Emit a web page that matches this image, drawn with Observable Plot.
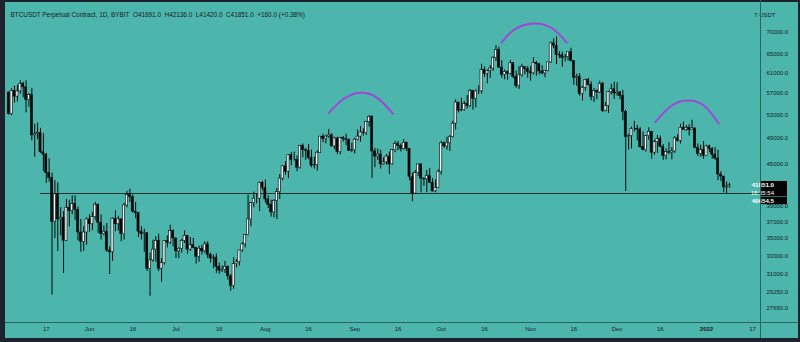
<!DOCTYPE html>
<html><head><meta charset="utf-8">
<script src="https://cdn.jsdelivr.net/npm/d3@7"></script>
<script src="https://cdn.jsdelivr.net/npm/@observablehq/plot@0.6"></script>
<style>
html,body{margin:0;padding:0;background:#1e222d;}
#wrap{position:relative;width:800px;height:342px;overflow:hidden;}
#wrap svg{position:absolute;left:0;top:0;}
.chrome{position:absolute;background:#1e222d;}
.sep{position:absolute;background:#2c6560;}
</style></head>
<body><div id="wrap"></div>
<script>
// ---------- DATA ----------
const startDay = "2021-05-04"; // first daily candle (consecutive daily bars follow)
const open = [
57200,53200,57500,56400,57400,58900,58200,55800,56700,49500,49700,49900,46800,46400,43600,42900,37000,40600,37300,37500,34700,38800,38400,39300,38500,35700,34600,35700,
37300,36700,37600,39200,36900,35500,35800,33600,33400,37400,36700,37300,35500,39100,40500,40200,38300,38100,35800,35500,35600,31600,32500,33700,34700,31600,32200,34700,34500,35900,
35000,33500,33800,34700,35300,33700,34200,33900,32900,33800,33500,34300,33100,32700,32800,31800,31400,31500,31800,30800,29800,32100,32300,33600,34300,35400,37300,39400,40000,40000,42200,
41500,39900,39200,38200,39700,40900,42800,44600,43800,46300,45600,45600,44400,47800,47100,47000,45900,44700,44800,46700,49300,48900,49300,49500,47700,49000,46800,49100,48900,48800,47000,
47100,48800,49300,50000,49900,51800,52700,46900,46100,46400,44900,45200,46100,44900,47100,48100,47800,47300,48300,47300,43000,40700,43600,44900,42800,42700,43200,42200,41000,41500,
43800,48200,47700,48200,49200,51500,55300,53800,53900,55000,54700,57500,56000,57400,57400,61700,60900,61500,62000,64300,66000,62200,60700,61300,60900,63100,60300,58500,60600,62300,61900,
61300,61000,63200,62900,61400,61000,61500,63300,67500,66900,64900,64800,64200,64400,65500,63600,60100,60300,56900,58100,59700,58700,56300,57500,57200,58900,53700,54700,57300,57800,
57000,57200,56500,53600,49200,49400,50600,50600,50500,47600,47100,49400,50100,46700,48400,48900,47600,46200,46800,46700,46900,49000,48600,50800,50400,50800,50400,50700,47500,46500,47100,
46200,47700,47300,46400,45800,43400,43100,41550,41691];
const high = [
57300,57900,58400,58600,59500,59200,59500,57000,58000,51400,51600,50700,49800,46600,45800,43600,42500,42200,38800,38300,39900,39800,40400,40400,38900,37300,36400,37500,
37900,38200,39500,39300,37900,36500,36800,34000,37500,38400,37700,37400,39400,41000,41300,40500,39500,38200,36400,36100,35700,33300,34800,35200,35500,32700,34700,35300,36600,36000,
35000,33900,34900,35900,35300,35100,35000,33900,34100,34200,34600,34600,33300,33100,33200,32200,31900,32400,31900,31000,32800,32600,33600,34500,35400,40500,39500,40900,40600,42300,42400,
42600,40400,39800,39900,41400,43400,44700,45300,46400,46700,46800,46200,47900,48100,47400,48000,47100,46000,47000,49300,49700,49500,50500,49800,49200,49200,49200,49300,49700,48900,48200,
49000,50400,51000,50600,51900,52900,52900,47400,47300,47100,45900,46400,46800,47200,48500,48500,48100,48800,48400,47400,43600,44000,44900,45000,42900,44000,44300,42800,42600,44100,
48500,48400,49200,49500,51900,55800,55300,56100,55500,56600,57800,57600,57700,58500,62900,62300,61700,62600,64500,67000,66600,63700,61700,61500,63700,63300,61500,62400,62900,62300,62400,
62400,64300,63500,63100,62600,61600,63300,67800,68500,69000,65600,65500,65000,65500,66400,63600,60800,60900,58400,59800,60000,59300,58000,57700,59400,59200,55300,57400,58800,59200,
59100,57400,57600,53900,49700,50900,51900,51200,50800,50100,49500,50800,50200,48700,49500,49400,48000,47300,48300,47500,49300,49600,51400,51800,51200,51300,52100,50700,48100,47900,48500,
47900,47900,47500,47500,47100,43800,43150,42300,42136];
const low = [
53000,52900,55200,55400,56900,56200,53400,54400,48600,46000,48800,46600,43800,42100,42300,28900,35000,33500,35300,31100,34600,36400,37900,37200,34700,33400,33500,34200,
35700,35900,37200,35600,34800,35300,33400,31000,32400,35800,35900,34600,34800,38800,39500,38100,37400,35100,34800,33400,31300,28800,32300,32300,31300,30200,32000,33900,34300,34000,
32700,32700,33300,34400,33200,33500,33800,32100,32300,33100,33300,32700,32200,31600,31100,31000,31200,31100,30400,29300,29500,31700,31900,33400,33900,35300,36400,38800,39300,38300,41100,
39400,38700,37600,37500,37300,39900,42500,43300,42800,44700,45400,43800,44200,45900,45500,45600,44400,44200,43900,46600,48300,48100,49000,47600,47200,46400,46400,48400,47800,46900,46700,
46500,48600,48400,49400,49500,50900,42800,44400,45500,44200,44800,44800,43400,44800,46700,47000,46800,47100,46900,42500,39600,40600,43100,40800,41700,40800,42100,40900,40800,41400,
43300,47400,47100,46900,49100,50400,53400,53600,53700,54100,54400,53900,54300,56800,56900,60200,58900,60000,61400,63500,62000,60000,59700,59600,60700,59900,58000,57800,60200,60700,60000,
59400,60700,60400,60700,60700,60100,61300,63100,66300,62800,64100,62300,63400,63600,63400,58600,58400,56500,55600,57400,58500,55600,55300,55800,57000,53500,53600,53300,56700,55900,
56500,55800,52000,41000,47100,47300,50100,48600,47400,47000,46800,48700,45700,46300,46600,47600,45500,45600,46400,45600,46600,48400,48100,50400,50200,49400,50400,47300,46100,46000,45700,
46200,46700,45700,45500,42500,42400,40800,40550,41420];
const close = [
53200,57500,56400,57400,58900,58200,55800,56700,49500,49700,49900,46800,46400,43600,42900,37000,40600,37300,37500,34700,38800,38400,39300,38500,35700,34600,35700,37300,
36700,37600,39200,36900,35500,35800,33600,33400,37400,36700,37300,35500,39100,40500,40200,38300,38100,35800,35500,35600,31600,32500,33700,34700,31600,32200,34700,34500,35900,35000,
33500,33800,34700,35300,33700,34200,33900,32900,33800,33500,34300,33100,32700,32800,31800,31400,31500,31800,30800,29800,32100,32300,33600,34300,35400,37300,39400,40000,40000,42200,41500,
39900,39200,38200,39700,40900,42800,44600,43800,46300,45600,45600,44400,47800,47100,47000,45900,44700,44800,46700,49300,48900,49300,49500,47700,49000,46800,49100,48900,48800,47000,47100,
48800,49300,50000,49900,51800,52700,46900,46100,46400,44900,45200,46100,44900,47100,48100,47800,47300,48300,47300,43000,40700,43600,44900,42800,42700,43200,42200,41000,41500,43800,
48200,47700,48200,49200,51500,55300,53800,53900,55000,54700,57500,56000,57400,57400,61700,60900,61500,62000,64300,66000,62200,60700,61300,60900,63100,60300,58500,60600,62300,61900,61300,
61000,63200,62900,61400,61000,61500,63300,67500,66900,64900,64800,64200,64400,65500,63600,60100,60300,56900,58100,59700,58700,56300,57500,57200,58900,53700,54700,57300,57800,57000,
57200,56500,53600,49200,49400,50600,50600,50500,47600,47100,49400,50100,46700,48400,48900,47600,46200,46800,46700,46900,49000,48600,50800,50400,50800,50400,50700,47500,46500,47100,46200,
47700,47300,46400,45800,43400,43100,41550,41691,41851];

const xTickDates  = ["2021-05-17","2021-06-01","2021-06-16","2021-07-01","2021-07-16","2021-08-01","2021-08-16","2021-09-01","2021-09-16","2021-10-01","2021-10-16","2021-11-01","2021-11-16","2021-12-01","2021-12-16","2022-01-01","2022-01-17"];
const xTickLabels = ["17","Jun","16","Jul","16","Aug","16","Sep","16","Oct","16","Nov","16","Dec","16","2022","17"];
const yTicks = [70000,65000,61000,57000,53000,49000,45000,39000,37000,35000,33000,31000,29250,27650];

const levelPrice = 40654.5;
const levelStart = "2021-05-15";
const lastPrice = 41851.0;
const countdown = "18:35:54";

const arc1Dates = ["2021-08-23T00:00Z","2021-08-28T05:00Z","2021-09-03T00:00Z","2021-09-08T19:00Z","2021-09-14T07:00Z"];
const arc1Prices = [53420,56000,57140,56180,53240];
const arc2Dates = ["2021-10-21T22:00Z","2021-10-26T10:00Z","2021-11-02T00:00Z","2021-11-08T14:00Z","2021-11-13T12:00Z"];
const arc2Prices = [67680,70710,72150,70950,67680];
const arc3Dates = ["2021-12-14T07:00Z","2021-12-19T12:00Z","2021-12-25T02:00Z","2021-12-31T02:00Z","2022-01-05T07:00Z"];
const arc3Prices = [51750,54560,55670,54750,51480];

const title = "BTCUSDT Perpetual Contract, 1D, BYBIT";
const ohlcText = ["O41691.0","H42136.0","L41420.0","C41851.0","+160.0 (+0.38%)"];
const currencyLabel = "7 USDT";

// ---------- TABLES ----------
const start = new Date(startDay + "T00:00Z");
const dates = d3.utcDay.range(start, d3.utcDay.offset(start, open.length));
const candles = dates.map((date, i) => ({date, open: open[i], high: high[i], low: low[i], close: close[i]}));
const ups = candles.filter(d => d.close >= d.open);
const downs = candles.filter(d => d.close < d.open);
const ticks = xTickDates.map((d, i) => ({date: new Date(d + "T00:00Z"), label: xTickLabels[i]}));
const arcRows = [];
[[arc1Dates, arc1Prices], [arc2Dates, arc2Prices], [arc3Dates, arc3Prices]].forEach(([ds, ps], k) =>
  ds.forEach((d, i) => arcRows.push({arc: k, date: new Date(d), price: ps[i]})));

const xDomain = [new Date("2021-05-02T20:44Z"), new Date("2022-01-19T17:51Z")];
const yDomain = [26366, 77441];
const ink = "#161b26";
const candleInk = "#080808";
const nb = "\u00a0\u00a0";

const chart = Plot.plot({
  width: 800, height: 342,
  marginLeft: 5, marginRight: 40, marginTop: 2, marginBottom: 20,
  x: {type: "utc", domain: xDomain, axis: null},
  y: {type: "log", domain: yDomain, axis: null},
  style: {background: "#4db6ac", fontFamily: "'Liberation Sans', Arial, sans-serif", overflow: "visible"},
  marks: [
    Plot.ruleY([levelPrice], {y: d => d, x1: () => new Date(levelStart + "T00:00Z"), x2: () => xDomain[1], stroke: "#17302d", strokeWidth: 1, shapeRendering: "crispEdges"}),
    Plot.ruleX(candles, {x: "date", y1: "low", y2: "high", stroke: candleInk, strokeWidth: 1}),
    Plot.rect(downs, {x1: d => d3.utcHour.offset(d.date, -9), x2: d => d3.utcHour.offset(d.date, 9), y1: "open", y2: "close", fill: candleInk, stroke: candleInk, strokeWidth: 0.5}),
    Plot.rect(ups, {x1: d => d3.utcHour.offset(d.date, -9), x2: d => d3.utcHour.offset(d.date, 9), y1: "open", y2: "close", fill: "#f2f5f5", stroke: candleInk, strokeWidth: 0.6}),
    Plot.line(arcRows, {x: "date", y: "price", z: "arc", curve: "natural", stroke: "#a046d8", strokeWidth: 2}),
    // right price axis
    Plot.text(yTicks, {y: d => d, text: d => d3.format(".1f")(d), frameAnchor: "right", dx: 6, textAnchor: "start", fontSize: 6, fill: ink}),
    // bottom time axis
    Plot.text(ticks.filter(t => t.label !== "2022"), {x: "date", text: "label", frameAnchor: "bottom", dy: 8, fontSize: 6, fill: ink}),
    Plot.text(ticks.filter(t => t.label === "2022"), {x: "date", text: "label", frameAnchor: "bottom", dy: 8, fontSize: 6, fontWeight: "bold", fill: ink}),
    // header
    Plot.text([title + nb + ohlcText.join(nb)], {text: d => d, frameAnchor: "top-left", dx: 5, dy: 10, textAnchor: "start", fontSize: 6.4, fill: ink}),
    Plot.text([currencyLabel], {text: d => d, frameAnchor: "top-right", dx: 15, dy: 10, fontSize: 6, fill: ink}),
    // price boxes
    Plot.text([lastPrice], {y: d => d, text: d => d3.format(".1f")(d), frameAnchor: "right", dx: 13.5, fontSize: 6.2, fontWeight: "bold", fill: "white", ariaDescription: "lastbox"}),
    Plot.text([lastPrice], {y: d => d, text: () => countdown, frameAnchor: "right", dx: 13.5, dy: 7.5, fontSize: 6, fill: "white", ariaDescription: "lastbox"}),
    Plot.text([levelPrice], {y: d => d, text: d => d3.format(".1f")(d), frameAnchor: "right", dx: 13.5, dy: 7, fontSize: 6.2, fontWeight: "bold", fill: "white", ariaDescription: "levelbox"})
  ]
});

const wrap = document.getElementById("wrap");
wrap.appendChild(chart);

// dark price tags behind the last-price and level labels
const firstLabelGroup = chart.querySelector('g[aria-description="lastbox"]');
function addBox(label) {
  const svgR = chart.getBoundingClientRect();
  const texts = chart.querySelectorAll(`g[aria-description="${label}"] text`);
  if (!texts.length) return;
  let top = Infinity, bot = -Infinity;
  texts.forEach(t => { const r = t.getBoundingClientRect(); top = Math.min(top, r.top - svgR.top); bot = Math.max(bot, r.bottom - svgR.top); });
  const rect = document.createElementNS("http://www.w3.org/2000/svg", "rect");
  rect.setAttribute("x", 761); rect.setAttribute("width", 26);
  rect.setAttribute("y", top - 0.3); rect.setAttribute("height", bot - top + 0.6);
  rect.setAttribute("fill", "#050505");
  firstLabelGroup.parentNode.insertBefore(rect, firstLabelGroup);
}
addBox("levelbox");
addBox("lastbox");

// window chrome (frame strips and pane separators)
[[0,0,5,342,"chrome"],[0,0,800,2,"chrome"],[0,338,800,4,"chrome"],[798,0,2,342,"chrome"],
 [760,0,1,338,"sep"],[5,322,793,1,"sep"]].forEach(([l,t,w,h,c]) => {
  const d = document.createElement("div"); d.className = c;
  Object.assign(d.style, {left: l + "px", top: t + "px", width: w + "px", height: h + "px"});
  wrap.appendChild(d);
});
</script>
</body></html>
